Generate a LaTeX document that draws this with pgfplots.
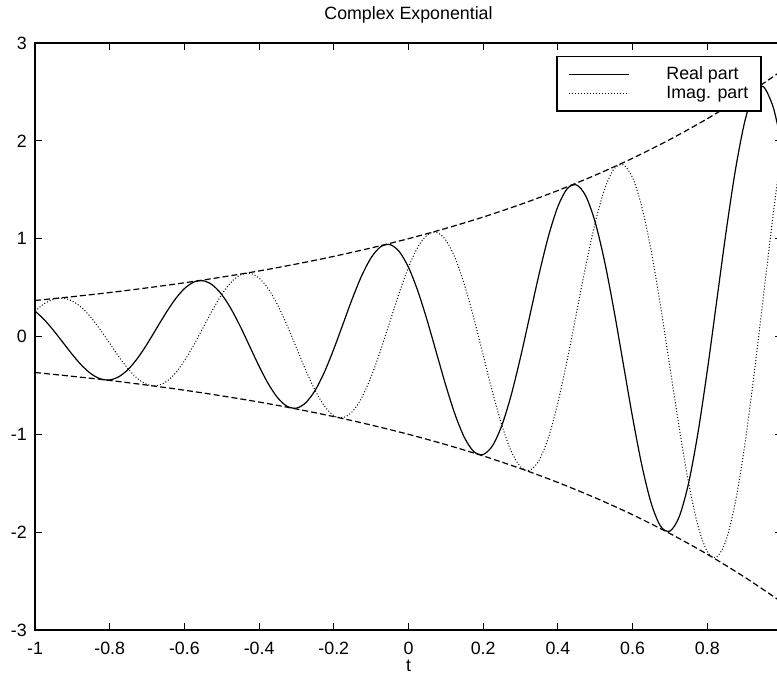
\documentclass[border=0pt]{standalone}
\usepackage{fontspec}
\setmainfont{Liberation Sans}
\usepackage{pgfplots}
\pgfplotsset{compat=1.18}
\newcommand\ff{\fontsize{17.8}{21}\selectfont}

\begin{document}
\ff
\begin{tikzpicture}
\useasboundingbox (0,0) rectangle (777pt,682pt);
\clip (0,0) rectangle (777pt,682pt);
\begin{axis}[
    at={(35pt,52pt)}, anchor=south west,
    scale only axis,
    width=747pt, height=587pt,
    xmin=-1, xmax=1,
    ymin=-3, ymax=3,
    xtick={-1,-0.8,...,0.8},
    ytick={-3,-2,...,3},
    /pgf/number format/assume math mode=true,
    axis line style={line width=1.5pt},
    tick style={line width=1pt, black},
    major tick length=7pt,
    ticklabel style={font=\ff},
    xticklabel style={anchor=base, yshift=-25pt, inner sep=0pt},
    yticklabel style={anchor=east, xshift=-8pt, inner sep=0pt},
    title={Complex Exponential},
    title style={font=\ff, at={(axis description cs:0.5,1)}, anchor=base, yshift=17pt, inner sep=0pt},
    xlabel={t},
    xlabel style={font=\ff, at={(axis description cs:0.5,0)}, anchor=base, yshift=-42pt, inner sep=0pt},
    legend style={at={(0.9732,0.9784)}, anchor=north east, draw=black, line width=1.5pt,
        font=\ff, legend cell align=left, inner xsep=12pt, inner ysep=8pt, row sep=0pt,
        nodes={inner xsep=1pt, inner ysep=2pt}},
    legend image code/.code={\draw[#1, line width=1pt] (0pt,0pt) -- (60pt,0pt); \path[draw=none] (60pt,0pt) -- (96pt,0pt);},
]
% real part
\addplot[black, line width=1.2pt, smooth] coordinates {
 (-1,0.260) (-0.975,0.171) (-0.95,0.060) (-0.925,-0.062) (-0.9,-0.185)
 (-0.875,-0.295) (-0.85,-0.381) (-0.825,-0.433) (-0.8,-0.444) (-0.775,-0.410)
 (-0.75,-0.334) (-0.725,-0.220) (-0.7,-0.078) (-0.675,0.080) (-0.65,0.237)
 (-0.625,0.379) (-0.6,0.489) (-0.575,0.556) (-0.55,0.570) (-0.525,0.527)
 (-0.5,0.429) (-0.475,0.282) (-0.45,0.100) (-0.425,-0.102) (-0.4,-0.304)
 (-0.375,-0.486) (-0.35,-0.628) (-0.325,-0.714) (-0.3,-0.732) (-0.275,-0.677)
 (-0.25,-0.551) (-0.225,-0.363) (-0.2,-0.128) (-0.175,0.131) (-0.15,0.391)
 (-0.125,0.624) (-0.1,0.806) (-0.075,0.916) (-0.05,0.940) (-0.025,0.869)
 (0,0.707) (0.025,0.465) (0.05,0.164) (0.075,-0.169) (0.1,-0.502)
 (0.125,-0.801) (0.15,-1.035) (0.175,-1.177) (0.2,-1.206) (0.225,-1.116)
 (0.25,-0.908) (0.275,-0.598) (0.3,-0.211) (0.325,0.216) (0.35,0.644)
 (0.375,1.029) (0.4,1.329) (0.425,1.511) (0.45,1.549) (0.475,1.433)
 (0.5,1.166) (0.525,0.767) (0.55,0.271) (0.575,-0.278) (0.6,-0.827)
 (0.625,-1.321) (0.65,-1.707) (0.675,-1.940) (0.7,-1.989) (0.725,-1.840)
 (0.75,-1.497) (0.775,-0.985) (0.8,-0.348) (0.825,0.357) (0.85,1.062)
 (0.875,1.696) (0.9,2.192) (0.925,2.491) (0.95,2.554) (0.975,2.362)
 (0.99,2.126)
};
\addlegendentry{Real part}
% imaginary part
\addplot[black, line width=1pt, dash pattern=on 1pt off 2pt, smooth] coordinates {
 (-1,0.260) (-0.975,0.336) (-0.95,0.382) (-0.925,0.392) (-0.9,0.362)
 (-0.875,0.295) (-0.85,0.194) (-0.825,0.069) (-0.8,-0.070) (-0.775,-0.209)
 (-0.75,-0.334) (-0.725,-0.432) (-0.7,-0.490) (-0.675,-0.503) (-0.65,-0.465)
 (-0.625,-0.379) (-0.6,-0.249) (-0.575,-0.088) (-0.55,0.090) (-0.525,0.269)
 (-0.5,0.429) (-0.475,0.554) (-0.45,0.630) (-0.425,0.646) (-0.4,0.597)
 (-0.375,0.486) (-0.35,0.320) (-0.325,0.113) (-0.3,-0.116) (-0.275,-0.345)
 (-0.25,-0.551) (-0.225,-0.711) (-0.2,-0.809) (-0.175,-0.829) (-0.15,-0.767)
 (-0.125,-0.624) (-0.1,-0.411) (-0.075,-0.145) (-0.05,0.149) (-0.025,0.443)
 (0,0.707) (0.025,0.914) (0.05,1.038) (0.075,1.065) (0.1,0.985)
 (0.125,0.801) (0.15,0.527) (0.175,0.186) (0.2,-0.191) (0.225,-0.569)
 (0.25,-0.908) (0.275,-1.173) (0.3,-1.333) (0.325,-1.367) (0.35,-1.264)
 (0.375,-1.029) (0.4,-0.677) (0.425,-0.239) (0.45,0.245) (0.475,0.730)
 (0.5,1.166) (0.525,1.506) (0.55,1.712) (0.575,1.755) (0.6,1.623)
 (0.625,1.321) (0.65,0.870) (0.675,0.307) (0.7,-0.315) (0.725,-0.937)
 (0.75,-1.497) (0.775,-1.934) (0.8,-2.198) (0.825,-2.254) (0.85,-2.085)
 (0.875,-1.696) (0.9,-1.117) (0.925,-0.394) (0.95,0.404) (0.975,1.204)
 (0.99,1.650)
};
\addlegendentry{Imag. part}
% envelopes
\addplot[black, line width=1.2pt, dash pattern=on 6pt off 3pt, smooth, forget plot] coordinates {
 (-1,0.368) (-0.9,0.407) (-0.8,0.449) (-0.7,0.497) (-0.6,0.549) (-0.5,0.607)
 (-0.4,0.670) (-0.3,0.741) (-0.2,0.819) (-0.1,0.905) (0,1.000) (0.1,1.105)
 (0.2,1.221) (0.3,1.350) (0.4,1.492) (0.5,1.649) (0.6,1.822) (0.7,2.014)
 (0.8,2.226) (0.9,2.460) (0.99,2.691)
};
\addplot[black, line width=1.2pt, dash pattern=on 6pt off 3pt, smooth, forget plot] coordinates {
 (-1,-0.368) (-0.9,-0.407) (-0.8,-0.449) (-0.7,-0.497) (-0.6,-0.549) (-0.5,-0.607)
 (-0.4,-0.670) (-0.3,-0.741) (-0.2,-0.819) (-0.1,-0.905) (0,-1.000) (0.1,-1.105)
 (0.2,-1.221) (0.3,-1.350) (0.4,-1.492) (0.5,-1.649) (0.6,-1.822) (0.7,-2.014)
 (0.8,-2.226) (0.9,-2.460) (0.99,-2.691)
};
\end{axis}
\end{tikzpicture}
\end{document}
